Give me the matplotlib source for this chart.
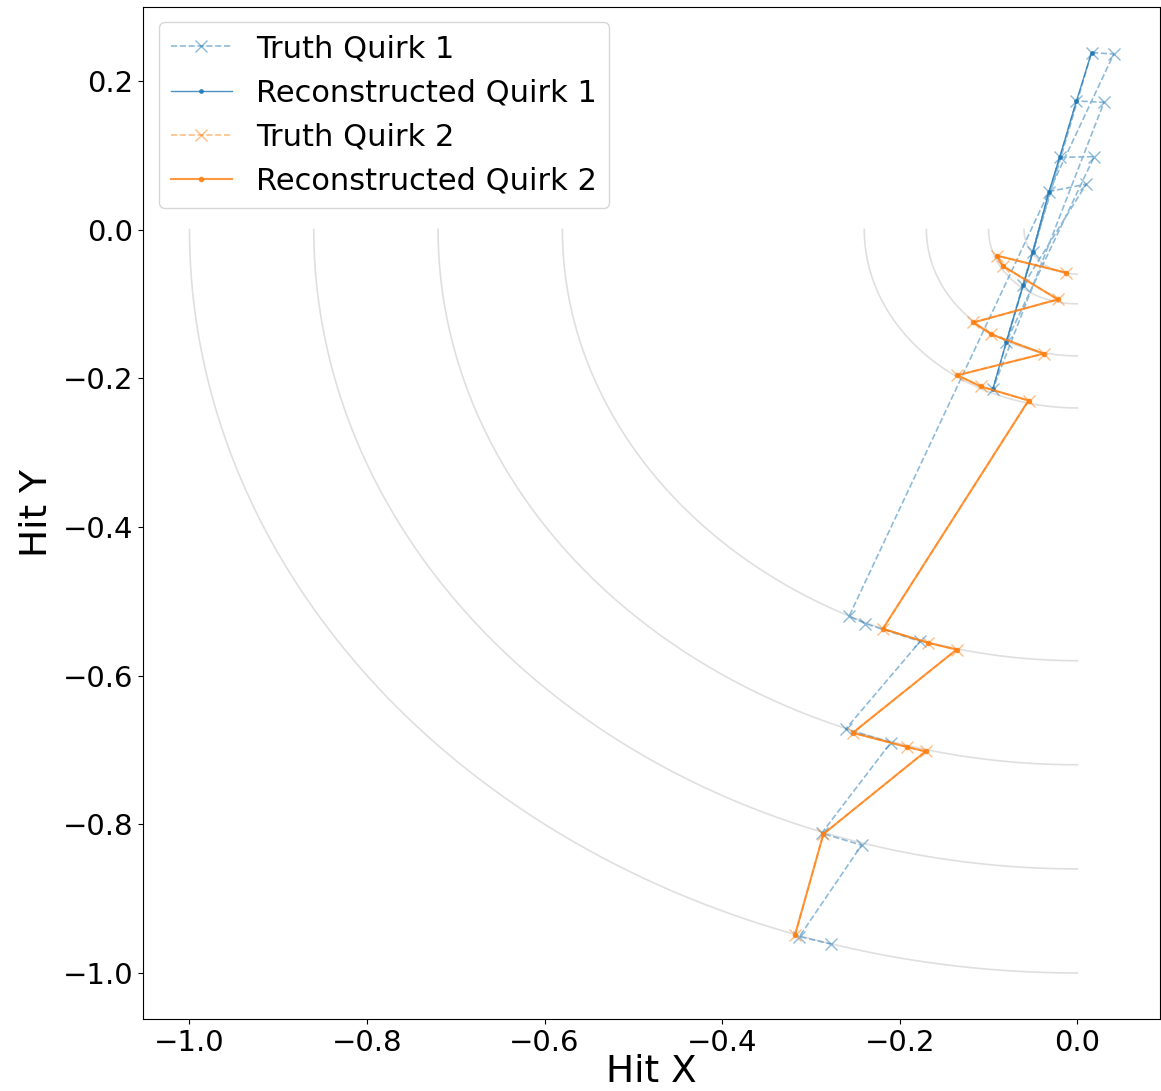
import numpy as np
import matplotlib
matplotlib.use("Agg")
import matplotlib.pyplot as plt

# detector layer radii (gray arcs)
layer_radii = [0.06, 0.10, 0.17, 0.24, 0.58, 0.72, 0.86, 1.0]

# truth hits of quirk 1, in plotting order
truth1_x = [-0.050, -0.032, 0.010, -0.061, -0.020, 0.019, -0.080, -0.001, 0.030,
            -0.095, 0.016, 0.041, -0.257, -0.239, -0.177, -0.261, -0.210,
            -0.288, -0.243, -0.313, -0.278]
truth1_y = [-0.030, 0.051, 0.061, -0.075, 0.097, 0.098, -0.151, 0.173, 0.171,
            -0.214, 0.238, 0.236, -0.520, -0.530, -0.554, -0.672, -0.690,
            -0.812, -0.828, -0.951, -0.961]

# reconstructed quirk 1 (straight track through the inner layers)
reco1_x = [-0.095, -0.080, -0.061, -0.050, -0.032, -0.020, -0.001, 0.016]
reco1_y = [-0.214, -0.151, -0.075, -0.030, 0.051, 0.097, 0.173, 0.238]

# truth hits of quirk 2
truth2_x = [-0.013, -0.091, -0.084, -0.022, -0.117, -0.097, -0.038, -0.135, -0.109,
            -0.055, -0.219, -0.168, -0.136, -0.253, -0.192, -0.171, -0.286, -0.318]
truth2_y = [-0.058, -0.035, -0.049, -0.094, -0.125, -0.141, -0.167, -0.196, -0.211,
            -0.230, -0.537, -0.556, -0.565, -0.677, -0.696, -0.702, -0.813, -0.949]

# reconstructed quirk 2
reco2_x = list(truth2_x)
reco2_y = list(truth2_y)

fig = plt.figure(figsize=(11.61, 10.91), dpi=100)
ax = fig.add_axes([0.1234, 0.066, 0.8757, 0.928])

# layer arcs
theta = np.linspace(np.pi, 1.5 * np.pi, 200)
for r in layer_radii:
    ax.plot(r * np.cos(theta), r * np.sin(theta), color="gray", alpha=0.25, lw=1.2)

ax.plot(truth1_x, truth1_y, color="C0", ls="--", marker="x", markersize=8,
        lw=1.2, alpha=0.5, label="Truth Quirk 1")
ax.plot(reco1_x, reco1_y, color="C0", ls="-", marker=".", markersize=5,
        lw=1.0, alpha=0.8, label="Reconstructed Quirk 1")
ax.plot(truth2_x, truth2_y, color="C1", ls="--", marker="x", markersize=8,
        lw=1.2, alpha=0.5, label="Truth Quirk 2")
ax.plot(reco2_x, reco2_y, color="C1", ls="-", marker=".", markersize=6,
        lw=1.5, alpha=0.8, label="Reconstructed Quirk 2")

ax.tick_params(labelsize=21)
ax.set_xlabel("Hit X", fontsize=27, labelpad=-2)
ax.set_ylabel("Hit Y", fontsize=27, labelpad=6)
ax.legend(loc="upper left", fontsize=22)

fig.savefig("out.png", dpi=100)
